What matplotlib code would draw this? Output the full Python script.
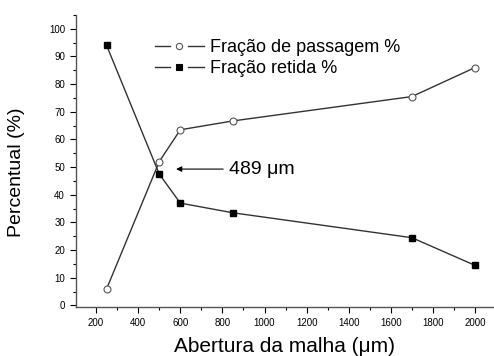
import matplotlib.pyplot as plt
from matplotlib.ticker import MultipleLocator
from matplotlib.lines import Line2D
from matplotlib.legend_handler import HandlerTuple

plt.rcParams['font.family'] = ['Liberation Sans', 'DejaVu Sans']

abertura = [250, 500, 600, 850, 1700, 2000]
passagem = [6, 52, 63.5, 66.7, 75.5, 86]
retida = [94, 47.5, 37, 33.5, 24.5, 14.5]

fig = plt.figure(figsize=(4.94, 3.56), dpi=100)
ax = fig.add_axes([0.154, 0.138, 0.846, 0.82])

ax.plot(abertura, passagem, '-o', color='#333333', lw=1.0, ms=5,
        mfc='white', mec='#555555', mew=0.8)
ax.plot(abertura, retida, '-s', color='#333333', lw=1.0, ms=5,
        mfc='black', mec='black')

ax.annotate('489 μm', xy=(580, 49.3), xytext=(830, 49.3),
            fontsize=14, va='center',
            arrowprops=dict(arrowstyle='-|>', color='black', lw=0.8,
                            mutation_scale=8, shrinkB=0))

ax.set_xlim(105, 2090)
ax.set_ylim(-0.5, 105)
ax.set_xticks(range(200, 2001, 200))
ax.set_yticks(range(0, 101, 10))
ax.xaxis.set_minor_locator(MultipleLocator(100))
ax.yaxis.set_minor_locator(MultipleLocator(5))
ax.tick_params(labelsize=7, length=4, width=0.8, pad=4)
ax.tick_params(which='minor', length=2, width=0.8)
for s in ['top', 'right']:
    ax.spines[s].set_visible(False)
for s in ['left', 'bottom']:
    ax.spines[s].set_color('#555555')
    ax.spines[s].set_linewidth(1.0)

ax.set_xlabel('Abertura da malha (μm)', fontsize=15)
ax.set_ylabel('Percentual (%)', fontsize=14)
ax.xaxis.set_label_coords(0.499, -0.103)
ax.yaxis.set_label_coords(-0.122, 0.46)

def handle(marker, face):
    line = Line2D([], [], color='#333333', lw=1.0)
    gap = Line2D([], [], ls='none', marker='o', ms=11, mfc='white', mec='white')
    mk = Line2D([], [], ls='none', marker=marker, ms=4.5, mfc=face,
                mec='#555555' if face == 'white' else 'black', mew=0.8)
    return (line, gap, mk)

ax.legend([handle('o', 'white'), handle('s', 'black')],
          ['Fração de passagem %', 'Fração retida %'],
          handler_map={tuple: HandlerTuple(ndivide=1, pad=0)},
          loc='upper left', bbox_to_anchor=(155 / 494, 1 - 39 / 356),
          bbox_transform=fig.transFigure, frameon=False,
          fontsize=13, handlelength=2.7, handletextpad=0.33,
          labelspacing=0.24, borderpad=0, borderaxespad=0)

fig.savefig('out.png', dpi=100)
